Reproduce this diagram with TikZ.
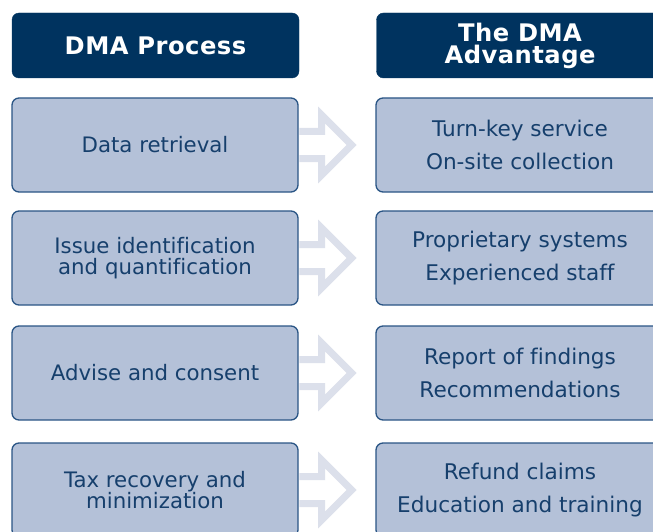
\documentclass[tikz,border=0pt]{standalone}
\usepackage{fontspec}
\setmainfont[Ligatures=NoCommon]{DejaVu Sans}
\definecolor{hdr}{HTML}{00335F}
\definecolor{boxfill}{HTML}{B4C1D8}
\definecolor{boxline}{HTML}{2A5585}
\definecolor{txt}{HTML}{163F6C}
\definecolor{arr}{HTML}{DCE0EB}
\begin{document}
\begin{tikzpicture}[x=1pt,y=-1pt,
  hdrbox/.style={fill=hdr, draw=hdr, rounded corners=7pt, minimum width=287pt, minimum height=65pt,
    text=white, align=center, inner sep=0pt, font=\fontsize{24.2}{22}\selectfont\bfseries\addfontfeature{LetterSpace=2}},
  leftbox/.style={fill=boxfill, draw=boxline, line width=1.3pt, rounded corners=7pt, minimum width=286pt,
    minimum height=94pt, text=txt, align=center, inner sep=0pt, font=\fontsize{21.3}{20.5}\selectfont},
  rightbox/.style={leftbox, minimum width=288pt, font=\fontsize{21.6}{33}\selectfont},
  blockarrow/.style={draw=arr, line width=7pt, line join=miter, fill=white}
]
\useasboundingbox (0,0) rectangle (653,532);
\clip (0,0) rectangle (653,532);

\node[hdrbox] (h1) at (155.5,45.5) {DMA Process};
\node[hdrbox] (h2) at (520,45.5) {The DMA\\Advantage};

\node[leftbox] (l1) at (155,145) {Data retrieval};
\node[leftbox] (l2) at (155,258) {Issue identification\\and quantification};
\node[leftbox] (l3) at (155,373) {Advise and consent};
\node[leftbox] (l4) at (155,490) {Tax recovery and\\minimization};

\node[rightbox] (r1) at (520,145) {Turn-key service\\On-site collection};
\node[rightbox] (r2) at (520,258) {Proprietary systems\\Experienced staff};
\node[rightbox] (r3) at (520,373) {Report of findings\\Recommendations};
\node[rightbox] (r4) at (520,490) {Refund claims\\Education and training};

\foreach \i in {1,2,3,4}{
  \draw[blockarrow] ([shift={(0.8,-13.5)}]l\i.east) -- ([shift={(23,-13.5)}]l\i.east)
    -- ([shift={(23,-30)}]l\i.east) -- ([shift={(53,0)}]l\i.east)
    -- ([shift={(23,30)}]l\i.east) -- ([shift={(23,13.5)}]l\i.east)
    -- ([shift={(0.8,13.5)}]l\i.east);
}
\end{tikzpicture}
\end{document}
